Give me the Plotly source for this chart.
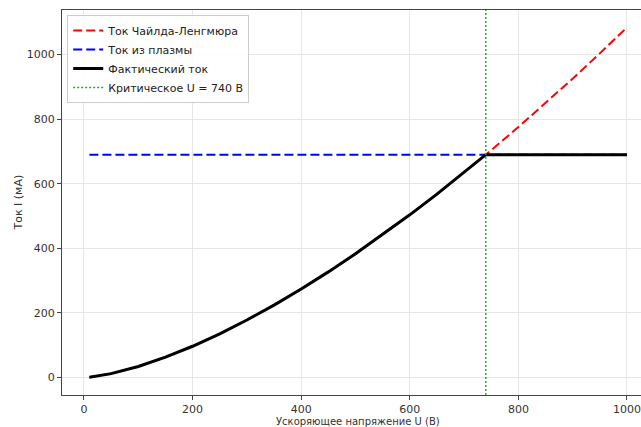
import plotly.graph_objects as go

# Data
voltage_u = [10, 50, 100, 150, 200, 250, 300, 350, 400, 450, 500, 550, 600, 650, 700, 740,
             750, 800, 850, 900, 950, 1000]
child_langmuir_i = [1.1, 12.1, 34.3, 63.0, 96.9, 135.5, 178.1, 224.4, 274.2, 327.2, 383.2, 442.1,
                    503.8, 568.0, 634.8, 690.0, 704.0, 775.6, 849.4, 925.5, 1003.7, 1084.0]
plasma_i = [690] * len(voltage_u)
actual_i = [1.1, 12.1, 34.3, 63.0, 96.9, 135.5, 178.1, 224.4, 274.2, 327.2, 383.2, 442.1,
            503.8, 568.0, 634.8, 690.0, 690.0, 690.0, 690.0, 690.0, 690.0, 690.0]
critical_u = 740

x_ticks = [0, 200, 400, 600, 800, 1000]
y_ticks = [0, 200, 400, 600, 800, 1000]

FONT = "DejaVu Sans"

fig = go.Figure()
fig.add_trace(go.Scatter(x=voltage_u, y=child_langmuir_i, mode="lines",
                         name="Ток Чайлда-Ленгмюра",
                         line=dict(color="#ff0000", width=2, dash="9px,4px")))
fig.add_trace(go.Scatter(x=voltage_u, y=plasma_i, mode="lines",
                         name="Ток из плазмы",
                         line=dict(color="#0000ff", width=2, dash="9px,4px")))
fig.add_trace(go.Scatter(x=voltage_u, y=actual_i, mode="lines",
                         name="Фактический ток",
                         line=dict(color="#000000", width=3)))
fig.add_trace(go.Scatter(x=[None], y=[None], mode="lines",
                         name=f"Критическое U = {critical_u} В",
                         line=dict(color="#2ca02c", width=1.5, dash="2px,2px")))
fig.add_vline(x=critical_u, line=dict(color="#2ca02c", width=1.5, dash="2px,2px"))

fig.update_layout(
    width=641, height=427,
    margin=dict(l=62, r=0, t=10, b=32),
    paper_bgcolor="white", plot_bgcolor="white",
    font=dict(family=FONT, size=11, color="#333"),
    showlegend=True,
    legend=dict(x=0.009, y=0.987, xanchor="left", yanchor="top",
                bgcolor="rgba(255,255,255,0.85)", bordercolor="#cccccc", borderwidth=1,
                font=dict(family=FONT, size=11, color="#222"),
                itemwidth=30, tracegroupgap=0),
    xaxis=dict(range=[-40.5, 1025.8], tickvals=x_ticks, ticktext=[str(v) for v in x_ticks],
               showgrid=True, gridcolor="#e6e6e6", gridwidth=1, zeroline=False,
               showline=True, linecolor="#444", linewidth=1, mirror=True,
               ticks="outside", ticklen=4, tickcolor="#444",
               tickfont=dict(family=FONT, size=11, color="#333")),
    yaxis=dict(range=[-54, 1138], tickvals=y_ticks, ticktext=[str(v) for v in y_ticks],
               showgrid=True, gridcolor="#e6e6e6", gridwidth=1, zeroline=False,
               showline=True, linecolor="#444", linewidth=1, mirror=False,
               ticks="outside", ticklen=4, tickcolor="#444",
               tickfont=dict(family=FONT, size=11, color="#333")),
    annotations=[
        dict(text="Ускоряющее напряжение U (В)", xref="paper", yref="paper",
             x=0.511, y=0, xanchor="center", yanchor="middle", yshift=-26,
             showarrow=False, font=dict(family=FONT, size=10, color="#333")),
        dict(text="Ток I (мА)", xref="paper", yref="paper", textangle=-90,
             x=0, y=0.5, xanchor="center", yanchor="middle", xshift=-44,
             showarrow=False, font=dict(family=FONT, size=11, color="#333")),
    ],
)

fig.write_html(
    "out.html",
    config={"displayModeBar": False},
    post_script="document.body.style.margin='0';document.body.style.overflow='hidden';",
)
